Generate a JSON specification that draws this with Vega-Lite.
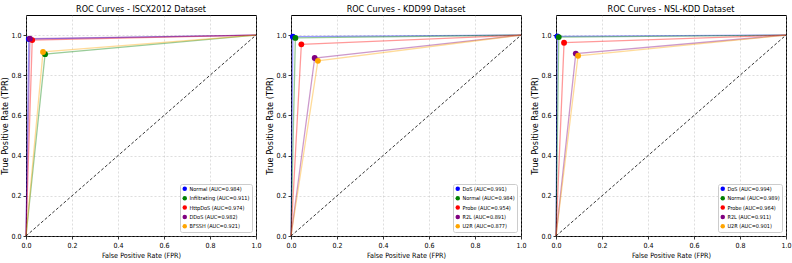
{
  "$schema": "https://vega.github.io/schema/vega-lite/v6.json",
  "padding": {"left": 0, "top": 4, "right": 4, "bottom": 2},
  "background": "white",
  "datasets": {
    "roc": [
      {"dataset": "ISCX2012", "cls": "Normal", "label": "Normal (AUC=0.984)", "ord": 0, "pt": false, "fpr": 0, "tpr": 0},
      {"dataset": "ISCX2012", "cls": "Normal", "label": "Normal (AUC=0.984)", "ord": 1, "pt": true, "fpr": 0.012, "tpr": 0.980},
      {"dataset": "ISCX2012", "cls": "Normal", "label": "Normal (AUC=0.984)", "ord": 2, "pt": false, "fpr": 1, "tpr": 1},
      {"dataset": "ISCX2012", "cls": "Infiltrating", "label": "Infiltrating (AUC=0.911)", "ord": 0, "pt": false, "fpr": 0, "tpr": 0},
      {"dataset": "ISCX2012", "cls": "Infiltrating", "label": "Infiltrating (AUC=0.911)", "ord": 1, "pt": true, "fpr": 0.083, "tpr": 0.905},
      {"dataset": "ISCX2012", "cls": "Infiltrating", "label": "Infiltrating (AUC=0.911)", "ord": 2, "pt": false, "fpr": 1, "tpr": 1},
      {"dataset": "ISCX2012", "cls": "HttpDoS", "label": "HttpDoS (AUC=0.974)", "ord": 0, "pt": false, "fpr": 0, "tpr": 0},
      {"dataset": "ISCX2012", "cls": "HttpDoS", "label": "HttpDoS (AUC=0.974)", "ord": 1, "pt": true, "fpr": 0.027, "tpr": 0.975},
      {"dataset": "ISCX2012", "cls": "HttpDoS", "label": "HttpDoS (AUC=0.974)", "ord": 2, "pt": false, "fpr": 1, "tpr": 1},
      {"dataset": "ISCX2012", "cls": "DDoS", "label": "DDoS (AUC=0.982)", "ord": 0, "pt": false, "fpr": 0, "tpr": 0},
      {"dataset": "ISCX2012", "cls": "DDoS", "label": "DDoS (AUC=0.982)", "ord": 1, "pt": true, "fpr": 0.017, "tpr": 0.982},
      {"dataset": "ISCX2012", "cls": "DDoS", "label": "DDoS (AUC=0.982)", "ord": 2, "pt": false, "fpr": 1, "tpr": 1},
      {"dataset": "ISCX2012", "cls": "BFSSH", "label": "BFSSH (AUC=0.921)", "ord": 0, "pt": false, "fpr": 0, "tpr": 0},
      {"dataset": "ISCX2012", "cls": "BFSSH", "label": "BFSSH (AUC=0.921)", "ord": 1, "pt": true, "fpr": 0.074, "tpr": 0.916},
      {"dataset": "ISCX2012", "cls": "BFSSH", "label": "BFSSH (AUC=0.921)", "ord": 2, "pt": false, "fpr": 1, "tpr": 1},
      {"dataset": "KDD99", "cls": "DoS", "label": "DoS (AUC=0.991)", "ord": 0, "pt": false, "fpr": 0, "tpr": 0},
      {"dataset": "KDD99", "cls": "DoS", "label": "DoS (AUC=0.991)", "ord": 1, "pt": true, "fpr": 0.008, "tpr": 0.992},
      {"dataset": "KDD99", "cls": "DoS", "label": "DoS (AUC=0.991)", "ord": 2, "pt": false, "fpr": 1, "tpr": 1},
      {"dataset": "KDD99", "cls": "Normal", "label": "Normal (AUC=0.984)", "ord": 0, "pt": false, "fpr": 0, "tpr": 0},
      {"dataset": "KDD99", "cls": "Normal", "label": "Normal (AUC=0.984)", "ord": 1, "pt": true, "fpr": 0.019, "tpr": 0.986},
      {"dataset": "KDD99", "cls": "Normal", "label": "Normal (AUC=0.984)", "ord": 2, "pt": false, "fpr": 1, "tpr": 1},
      {"dataset": "KDD99", "cls": "Probe", "label": "Probe (AUC=0.954)", "ord": 0, "pt": false, "fpr": 0, "tpr": 0},
      {"dataset": "KDD99", "cls": "Probe", "label": "Probe (AUC=0.954)", "ord": 1, "pt": true, "fpr": 0.045, "tpr": 0.954},
      {"dataset": "KDD99", "cls": "Probe", "label": "Probe (AUC=0.954)", "ord": 2, "pt": false, "fpr": 1, "tpr": 1},
      {"dataset": "KDD99", "cls": "R2L", "label": "R2L (AUC=0.891)", "ord": 0, "pt": false, "fpr": 0, "tpr": 0},
      {"dataset": "KDD99", "cls": "R2L", "label": "R2L (AUC=0.891)", "ord": 1, "pt": true, "fpr": 0.103, "tpr": 0.886},
      {"dataset": "KDD99", "cls": "R2L", "label": "R2L (AUC=0.891)", "ord": 2, "pt": false, "fpr": 1, "tpr": 1},
      {"dataset": "KDD99", "cls": "U2R", "label": "U2R (AUC=0.877)", "ord": 0, "pt": false, "fpr": 0, "tpr": 0},
      {"dataset": "KDD99", "cls": "U2R", "label": "U2R (AUC=0.877)", "ord": 1, "pt": true, "fpr": 0.117, "tpr": 0.872},
      {"dataset": "KDD99", "cls": "U2R", "label": "U2R (AUC=0.877)", "ord": 2, "pt": false, "fpr": 1, "tpr": 1},
      {"dataset": "NSL-KDD", "cls": "DoS", "label": "DoS (AUC=0.994)", "ord": 0, "pt": false, "fpr": 0, "tpr": 0},
      {"dataset": "NSL-KDD", "cls": "DoS", "label": "DoS (AUC=0.994)", "ord": 1, "pt": true, "fpr": 0.006, "tpr": 0.994},
      {"dataset": "NSL-KDD", "cls": "DoS", "label": "DoS (AUC=0.994)", "ord": 2, "pt": false, "fpr": 1, "tpr": 1},
      {"dataset": "NSL-KDD", "cls": "Normal", "label": "Normal (AUC=0.989)", "ord": 0, "pt": false, "fpr": 0, "tpr": 0},
      {"dataset": "NSL-KDD", "cls": "Normal", "label": "Normal (AUC=0.989)", "ord": 1, "pt": true, "fpr": 0.012, "tpr": 0.990},
      {"dataset": "NSL-KDD", "cls": "Normal", "label": "Normal (AUC=0.989)", "ord": 2, "pt": false, "fpr": 1, "tpr": 1},
      {"dataset": "NSL-KDD", "cls": "Probe", "label": "Probe (AUC=0.964)", "ord": 0, "pt": false, "fpr": 0, "tpr": 0},
      {"dataset": "NSL-KDD", "cls": "Probe", "label": "Probe (AUC=0.964)", "ord": 1, "pt": true, "fpr": 0.035, "tpr": 0.962},
      {"dataset": "NSL-KDD", "cls": "Probe", "label": "Probe (AUC=0.964)", "ord": 2, "pt": false, "fpr": 1, "tpr": 1},
      {"dataset": "NSL-KDD", "cls": "R2L", "label": "R2L (AUC=0.911)", "ord": 0, "pt": false, "fpr": 0, "tpr": 0},
      {"dataset": "NSL-KDD", "cls": "R2L", "label": "R2L (AUC=0.911)", "ord": 1, "pt": true, "fpr": 0.086, "tpr": 0.908},
      {"dataset": "NSL-KDD", "cls": "R2L", "label": "R2L (AUC=0.911)", "ord": 2, "pt": false, "fpr": 1, "tpr": 1},
      {"dataset": "NSL-KDD", "cls": "U2R", "label": "U2R (AUC=0.901)", "ord": 0, "pt": false, "fpr": 0, "tpr": 0},
      {"dataset": "NSL-KDD", "cls": "U2R", "label": "U2R (AUC=0.901)", "ord": 1, "pt": true, "fpr": 0.096, "tpr": 0.897},
      {"dataset": "NSL-KDD", "cls": "U2R", "label": "U2R (AUC=0.901)", "ord": 2, "pt": false, "fpr": 1, "tpr": 1}
    ],
    "diag": [{"fpr": 0, "tpr": 0}, {"fpr": 1, "tpr": 1}]
  },
  "hconcat": [
    {
      "title": "ROC Curves - ISCX2012 Dataset",
      "width": 230, "height": 221,
      "layer": [
        {"data": {"name": "roc"},
         "transform": [{"filter": "datum.dataset === 'ISCX2012'"}],
         "mark": {"type": "line", "strokeWidth": 1.3, "strokeOpacity": 0.4},
         "encoding": {"x": {"field": "fpr", "type": "quantitative", "scale": {"domain": [0, 1]}, "axis": {"title": "False Positive Rate (FPR)", "format": ".1f", "tickCount": 5}},
                      "y": {"field": "tpr", "type": "quantitative", "scale": {"domain": [0, 1.05]}, "axis": {"title": "True Positive Rate (TPR)", "format": ".1f", "tickCount": 6, "titleFont": "DejaVu Sans", "titleFontSize": 8.2}},
                      "order": {"field": "ord"},
                      "stroke": {"field": "cls", "type": "nominal", "legend": null, "scale": {"domain": ["Normal", "Infiltrating", "HttpDoS", "DDoS", "BFSSH"], "range": ["#0000ff", "#008000", "#ff0000", "#800080", "#ffa500"]}}}},
        {"data": {"name": "diag"},
         "mark": {"type": "line", "color": "black", "strokeWidth": 0.8, "strokeDash": [3, 2]},
         "encoding": {"x": {"field": "fpr", "type": "quantitative"}, "y": {"field": "tpr", "type": "quantitative"}}},
        {"data": {"name": "roc"},
         "transform": [{"filter": "datum.dataset === 'ISCX2012' && datum.pt"}],
         "mark": {"type": "point", "filled": true, "size": 34, "opacity": 1},
         "encoding": {"x": {"field": "fpr", "type": "quantitative"}, "y": {"field": "tpr", "type": "quantitative"},
                      "color": {"field": "label", "type": "nominal", "legend": {"title": null, "orient": "bottom-right"}, "scale": {"domain": ["Normal (AUC=0.984)", "Infiltrating (AUC=0.911)", "HttpDoS (AUC=0.974)", "DDoS (AUC=0.982)", "BFSSH (AUC=0.921)"], "range": ["#0000ff", "#008000", "#ff0000", "#800080", "#ffa500"]}}}}
      ]
    },
    {
      "title": "ROC Curves - KDD99 Dataset",
      "width": 230, "height": 221,
      "layer": [
        {"data": {"name": "roc"},
         "transform": [{"filter": "datum.dataset === 'KDD99'"}],
         "mark": {"type": "line", "strokeWidth": 1.3, "strokeOpacity": 0.4},
         "encoding": {"x": {"field": "fpr", "type": "quantitative", "scale": {"domain": [0, 1]}, "axis": {"title": "False Positive Rate (FPR)", "format": ".1f", "tickCount": 5}},
                      "y": {"field": "tpr", "type": "quantitative", "scale": {"domain": [0, 1.05]}, "axis": {"title": "True Positive Rate (TPR)", "format": ".1f", "tickCount": 6, "titleFont": "DejaVu Sans", "titleFontSize": 8.2}},
                      "order": {"field": "ord"},
                      "stroke": {"field": "cls", "type": "nominal", "legend": null, "scale": {"domain": ["DoS", "Normal", "Probe", "R2L", "U2R"], "range": ["#0000ff", "#008000", "#ff0000", "#800080", "#ffa500"]}}}},
        {"data": {"name": "diag"},
         "mark": {"type": "line", "color": "black", "strokeWidth": 0.8, "strokeDash": [3, 2]},
         "encoding": {"x": {"field": "fpr", "type": "quantitative"}, "y": {"field": "tpr", "type": "quantitative"}}},
        {"data": {"name": "roc"},
         "transform": [{"filter": "datum.dataset === 'KDD99' && datum.pt"}],
         "mark": {"type": "point", "filled": true, "size": 34, "opacity": 1},
         "encoding": {"x": {"field": "fpr", "type": "quantitative"}, "y": {"field": "tpr", "type": "quantitative"},
                      "color": {"field": "label", "type": "nominal", "legend": {"title": null, "orient": "bottom-right"}, "scale": {"domain": ["DoS (AUC=0.991)", "Normal (AUC=0.984)", "Probe (AUC=0.954)", "R2L (AUC=0.891)", "U2R (AUC=0.877)"], "range": ["#0000ff", "#008000", "#ff0000", "#800080", "#ffa500"]}}}}
      ]
    },
    {
      "title": "ROC Curves - NSL-KDD Dataset",
      "width": 230, "height": 221,
      "layer": [
        {"data": {"name": "roc"},
         "transform": [{"filter": "datum.dataset === 'NSL-KDD'"}],
         "mark": {"type": "line", "strokeWidth": 1.3, "strokeOpacity": 0.4},
         "encoding": {"x": {"field": "fpr", "type": "quantitative", "scale": {"domain": [0, 1]}, "axis": {"title": "False Positive Rate (FPR)", "format": ".1f", "tickCount": 5}},
                      "y": {"field": "tpr", "type": "quantitative", "scale": {"domain": [0, 1.05]}, "axis": {"title": "True Positive Rate (TPR)", "format": ".1f", "tickCount": 6, "titleFont": "DejaVu Sans", "titleFontSize": 8.2}},
                      "order": {"field": "ord"},
                      "stroke": {"field": "cls", "type": "nominal", "legend": null, "scale": {"domain": ["DoS", "Normal", "Probe", "R2L", "U2R"], "range": ["#0000ff", "#008000", "#ff0000", "#800080", "#ffa500"]}}}},
        {"data": {"name": "diag"},
         "mark": {"type": "line", "color": "black", "strokeWidth": 0.8, "strokeDash": [3, 2]},
         "encoding": {"x": {"field": "fpr", "type": "quantitative"}, "y": {"field": "tpr", "type": "quantitative"}}},
        {"data": {"name": "roc"},
         "transform": [{"filter": "datum.dataset === 'NSL-KDD' && datum.pt"}],
         "mark": {"type": "point", "filled": true, "size": 34, "opacity": 1},
         "encoding": {"x": {"field": "fpr", "type": "quantitative"}, "y": {"field": "tpr", "type": "quantitative"},
                      "color": {"field": "label", "type": "nominal", "legend": {"title": null, "orient": "bottom-right"}, "scale": {"domain": ["DoS (AUC=0.994)", "Normal (AUC=0.989)", "Probe (AUC=0.964)", "R2L (AUC=0.911)", "U2R (AUC=0.901)"], "range": ["#0000ff", "#008000", "#ff0000", "#800080", "#ffa500"]}}}}
      ]
    }
  ],
  "spacing": 3,
  "resolve": {"scale": {"color": "independent", "stroke": "independent"}, "legend": {"color": "independent"}},
  "config": {
    "font": "DejaVu Sans Condensed",
    "view": {"stroke": "black", "strokeWidth": 1},
    "title": {"fontSize": 9, "fontWeight": "normal", "color": "black", "offset": 1.5},
    "axis": {
      "grid": true, "gridDash": [2, 2], "gridColor": "#b0b0b0", "gridOpacity": 0.7, "gridWidth": 0.6,
      "domain": false, "ticks": true, "tickColor": "black", "tickSize": 3, "tickWidth": 0.8,
      "labelFontSize": 7, "labelColor": "black", "labelFlush": false, "labelOverlap": false, "labelPadding": 2,
      "titleFontSize": 7.2, "titleFontWeight": "normal", "titleColor": "black"
    },
    "axisX": {"titlePadding": 3},
    "axisY": {"titlePadding": 1},
    "legend": {
      "symbolType": "circle", "symbolSize": 20, "symbolStrokeWidth": 0,
      "labelFontSize": 5.5, "labelColor": "black", "rowPadding": 2.4, "padding": 2,
      "labelOffset": 2,
      "strokeColor": "#cccccc", "fillColor": "white", "cornerRadius": 2, "offset": 4
    }
  }
}
